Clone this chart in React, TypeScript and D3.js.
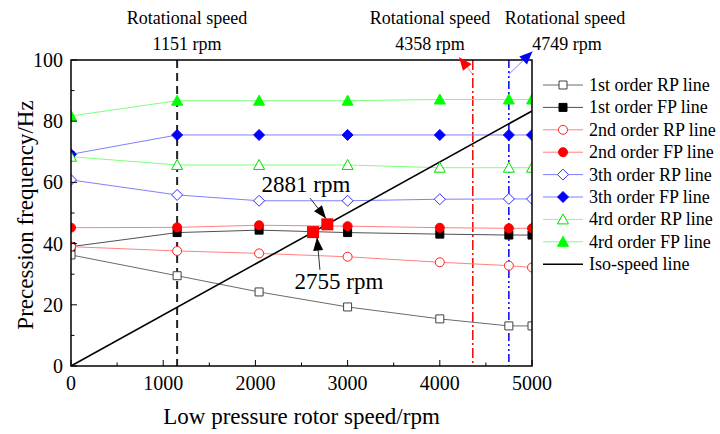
import React from 'react';
import * as d3 from 'd3';

const speeds = [0, 1151, 2040, 3000, 4000, 4749, 5000];
const rp1 = [36.3, 29.5, 24.2, 19.3, 15.4, 13.1, 13.1];
const fp1 = [39.0, 43.6, 44.4, 43.6, 43.1, 42.8, 42.8];
const rp2 = [39.0, 37.6, 36.8, 35.7, 33.9, 32.8, 32.2];
const fp2 = [45.2, 45.3, 46.0, 45.7, 45.2, 45.0, 45.0];
const rp3 = [60.8, 55.9, 54.0, 54.0, 54.5, 54.6, 54.6];
const fp3 = [69.2, 75.5, 75.5, 75.5, 75.5, 75.5, 75.5];
const rp4 = [68.4, 65.7, 65.7, 65.7, 64.8, 64.8, 64.8];
const fp4 = [81.7, 86.7, 86.7, 86.7, 87.1, 87.1, 87.1];

const seriesNames = [
  '1st order RP line', '1st order FP line', '2nd order RP line', '2nd order FP line',
  '3th order RP line', '3th order FP line', '4rd order RP line', '4rd order FP line',
];
const isoName = 'Iso-speed line';
const isoSpeeds = [0, 5000];

const critSpeeds = [1151, 4358, 4749];
const critLabels = ['1151 rpm', '4358 rpm', '4749 rpm'];
const intersections = [[2625, 43.75], [2780, 46.3]];
const intersectionLabels = ['2881 rpm', '2755 rpm'];

const xTicks = [0, 1000, 2000, 3000, 4000, 5000];
const yTicks = [0, 20, 40, 60, 80, 100];

const FONT = 'Liberation Serif, DejaVu Serif, serif';

type Style = { line: string; stroke: string; fill: string; shape: string; lw: number };
const styles: Style[] = [
  { line: '#6a6a6a', stroke: '#404040', fill: '#ffffff', shape: 'square', lw: 1 },
  { line: '#505050', stroke: '#000000', fill: '#000000', shape: 'square', lw: 1 },
  { line: '#ff8080', stroke: '#ff2020', fill: '#ffffff', shape: 'circle', lw: 1 },
  { line: '#ff8080', stroke: '#ff0000', fill: '#ff0000', shape: 'circle', lw: 1 },
  { line: '#8080ff', stroke: '#3030ff', fill: '#ffffff', shape: 'diamond', lw: 1 },
  { line: '#8080ff', stroke: '#0000ff', fill: '#0000ff', shape: 'diamond', lw: 1 },
  { line: '#80ff80', stroke: '#00dd00', fill: '#ffffff', shape: 'triangle', lw: 1 },
  { line: '#80ff80', stroke: '#00ff00', fill: '#00ff00', shape: 'triangle', lw: 1 },
];
const seriesData = [rp1, fp1, rp2, fp2, rp3, fp3, rp4, fp4];

function markerPath(shape: string): string {
  switch (shape) {
    case 'square': return 'M-4,-4H4V4H-4Z';
    case 'circle': return 'M-4.5,0A4.5,4.5 0 1,0 4.5,0A4.5,4.5 0 1,0 -4.5,0Z';
    case 'diamond': return 'M0,-5.5L5.5,0L0,5.5L-5.5,0Z';
    case 'triangle': return 'M0,-5.5L5.5,4.5L-5.5,4.5Z';
  }
  return '';
}

function arrowHead(x1: number, y1: number, x2: number, y2: number, len: number, w: number) {
  const a = Math.atan2(y2 - y1, x2 - x1);
  const bx = x2 - len * Math.cos(a), by = y2 - len * Math.sin(a);
  const px = -Math.sin(a) * w / 2, py = Math.cos(a) * w / 2;
  return `M${x2},${y2}L${bx + px},${by + py}L${bx - px},${by - py}Z`;
}

export default function App() {
  const W = 720, H = 434;
  const left = 71, right = 532, top = 60, bottom = 366;
  const x = d3.scaleLinear().domain([0, 5000]).range([left, right]);
  const y = d3.scaleLinear().domain([0, 100]).range([bottom, top]);
  const line = d3.line<number>().x((_, i) => x(speeds[i])).y(d => y(d));
  const isoLine = d3.line<number>().x(d => x(d)).y(d => y(d / 60));

  const xMinor = d3.range(0, 5001, 500);
  const yMinor = d3.range(0, 101, 10);

  const critColors = ['#222', '#ff0000', '#0000ff'];
  const critDash = ['8,5', '10,3,2,3', '8,3,2,3,2,3'];
  const critWidth = [2, 1.5, 1.5];
  const critLabelX = [187, 430, 565];

  const arrows = [
    { from: [4358, 95.3], to: [4210, 100.9], color: '#ff8080', head: '#ff0000' },
    { from: [4749, 95.3], to: [5005, 102.8], color: '#8080ff', head: '#0000ff' },
  ];
  const annArrows = [
    { from: [2592, 54.9], to: [2766, 48.2] },
    { from: [2700, 31.4], to: [2668, 42.0] },
  ];
  const annText = [
    { x: 2549, y: 56.9 },
    { x: 2907, y: 25.2 },
  ];

  const legendY0 = 85, legendDy = 22.4;
  const ts = { fontFamily: FONT } as React.CSSProperties;

  return (
    <svg width={W} height={H} style={{ position: 'absolute', left: 0, top: 0, background: '#fff', fontFamily: FONT }}>
      <defs>
        <clipPath id="plotClip">
          <rect x={left} y={top} width={right - left} height={bottom - top} />
        </clipPath>
      </defs>
      <rect x={0} y={0} width={W} height={H} fill="#fff" />

      {critSpeeds.map((s, i) => (
        <line key={'c' + i} x1={x(s)} x2={x(s)} y1={top} y2={bottom}
          stroke={critColors[i]} strokeWidth={critWidth[i]} strokeDasharray={critDash[i]} />
      ))}

      <g clipPath="url(#plotClip)">
        {seriesData.map((d, i) => (
          <path key={'l' + i} d={line(d) || ''} fill="none" stroke={styles[i].line} strokeWidth={styles[i].lw} />
        ))}
        <path d={isoLine(isoSpeeds) || ''} fill="none" stroke="#000" strokeWidth={1.6} />
        {seriesData.map((d, i) => d.map((v, j) => (
          <path key={'m' + i + '_' + j} d={markerPath(styles[i].shape)}
            transform={`translate(${x(speeds[j])},${y(v)})`}
            fill={styles[i].fill} stroke={styles[i].stroke} strokeWidth={1} />
        )))}
        {intersections.map((p, i) => (
          <rect key={'s' + i} x={x(p[0]) - 6} y={y(p[1]) - 6} width={12} height={12} fill="#ff0000" />
        ))}
      </g>

      <rect x={left} y={top} width={right - left} height={bottom - top} fill="none" stroke="#000" strokeWidth={1.5} />

      {xMinor.map((t, i) => (
        <line key={'xt' + i} x1={x(t)} x2={x(t)} y1={bottom} y2={bottom - (t % 1000 === 0 ? 6 : 3.5)} stroke="#000" strokeWidth={1} />
      ))}
      {yMinor.map((t, i) => (
        <line key={'yt' + i} x1={left} x2={left + (t % 20 === 0 ? 6 : 3.5)} y1={y(t)} y2={y(t)} stroke="#000" strokeWidth={1} />
      ))}
      {xTicks.map((t, i) => (
        <text key={'xl' + i} style={ts} x={x(t)} y={390} fontSize={20} textAnchor="middle" fill="#000">{t}</text>
      ))}
      {yTicks.map((t, i) => (
        <text key={'yl' + i} style={ts} x={63} y={y(t) + 7} fontSize={20} textAnchor="end" fill="#000">{t}</text>
      ))}

      <text style={ts} x={(left + right) / 2} y={424} fontSize={23} textAnchor="middle" fill="#000">Low pressure rotor speed/rpm</text>
      <text style={ts} transform={`translate(33,${(top + bottom) / 2 + 2}) rotate(-90)`} fontSize={23} textAnchor="middle" fill="#000">Precession frequency/Hz</text>

      {critSpeeds.map((s, i) => (
        <g key={'cl' + i}>
          <text style={ts} x={critLabelX[i]} y={24} fontSize={18} textAnchor="middle" fill="#000">Rotational speed</text>
          <text style={ts} x={critLabelX[i] + (i === 2 ? 2 : 0)} y={50} fontSize={18} textAnchor="middle" fill="#000">{critLabels[i]}</text>
        </g>
      ))}

      {arrows.map((a, i) => {
        const x1 = x(a.from[0]), y1 = y(a.from[1]), x2 = x(a.to[0]), y2 = y(a.to[1]);
        return (
          <g key={'a' + i}>
            <line x1={x1} y1={y1} x2={x2} y2={y2} stroke={a.color} strokeWidth={1} />
            <path d={arrowHead(x1, y1, x2, y2, 13, 11)} fill={a.head} />
          </g>
        );
      })}

      {annArrows.map((a, i) => {
        const x1 = x(a.from[0]), y1 = y(a.from[1]), x2 = x(a.to[0]), y2 = y(a.to[1]);
        return (
          <g key={'aa' + i}>
            <line x1={x1} y1={y1} x2={x2} y2={y2} stroke="#333" strokeWidth={1} />
            <path d={arrowHead(x1, y1, x2, y2, 13, 10)} fill="#000" />
          </g>
        );
      })}
      {annText.map((t, i) => (
        <text key={'at' + i} style={ts} x={x(t.x)} y={y(t.y)} fontSize={23} textAnchor="middle" fill="#000">{intersectionLabels[i]}</text>
      ))}

      {seriesNames.map((n, i) => {
        const ly = legendY0 + i * legendDy;
        return (
          <g key={'lg' + i}>
            <line x1={543} x2={583} y1={ly} y2={ly} stroke={styles[i].line} strokeWidth={1} />
            <path d={markerPath(styles[i].shape)} transform={`translate(563,${ly})`}
              fill={styles[i].fill} stroke={styles[i].stroke} strokeWidth={1} />
            <text style={ts} x={589} y={ly + 6} fontSize={18} fill="#000">{n}</text>
          </g>
        );
      })}
      <line x1={543} x2={583} y1={legendY0 + 8 * legendDy} y2={legendY0 + 8 * legendDy} stroke="#000" strokeWidth={1.6} />
      <text style={ts} x={589} y={legendY0 + 8 * legendDy + 6} fontSize={18} fill="#000">{isoName}</text>
    </svg>
  );
}
